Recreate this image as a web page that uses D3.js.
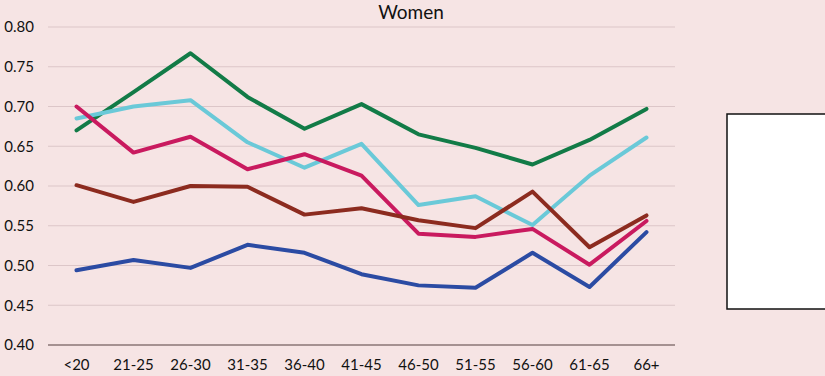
<!DOCTYPE html>
<html>
<head>
<meta charset="utf-8">
<script src="https://cdn.jsdelivr.net/npm/d3@7"></script>
<style>
  body { margin: 0; background: #f6e4e4; }
  svg { display: block; }
</style>
</head>
<body>
<svg id="chart" width="825" height="376"></svg>
<script>
// categories and series
const ageGroups = ["<20", "21-25", "26-30", "31-35", "36-40", "41-45", "46-50", "51-55", "56-60", "61-65", "66+"];
const greenVals   = [0.670, 0.718, 0.767, 0.712, 0.672, 0.703, 0.665, 0.648, 0.627, 0.658, 0.697];
const cyanVals    = [0.685, 0.700, 0.708, 0.655, 0.623, 0.653, 0.576, 0.587, 0.551, 0.613, 0.661];
const magentaVals = [0.700, 0.642, 0.662, 0.621, 0.640, 0.613, 0.540, 0.536, 0.546, 0.501, 0.556];
const brownVals   = [0.601, 0.580, 0.600, 0.599, 0.564, 0.572, 0.557, 0.547, 0.593, 0.523, 0.563];
const blueVals    = [0.494, 0.507, 0.497, 0.526, 0.516, 0.489, 0.475, 0.472, 0.516, 0.473, 0.542];
const yTicks = [0.40, 0.45, 0.50, 0.55, 0.60, 0.65, 0.70, 0.75, 0.80];

const series = [
  { name: "green", values: greenVals, color: "#127b47" },
  { name: "cyan", values: cyanVals, color: "#6ac9d8" },
  { name: "magenta", values: magentaVals, color: "#c91a5f" },
  { name: "brown", values: brownVals, color: "#8c2b1f" },
  { name: "blue", values: blueVals, color: "#2b4ba3" }
];

const svg = d3.select("#chart");
const font = "Lato, 'Open Sans', sans-serif";

// background
svg.append("rect").attr("width", 825).attr("height", 376).attr("fill", "#f6e4e4");

// scales
let x = d3.scaleBand().domain(ageGroups).range([48, 675]);
let y = d3.scaleLinear().domain([0.40, 0.80]).range([345, 27]);

// gridlines
svg.append("g")
  .selectAll("line")
  .data(yTicks.slice(1))
  .join("line")
    .attr("x1", 48).attr("x2", 675)
    .attr("y1", d => y(d)).attr("y2", d => y(d))
    .attr("stroke", "#dcc6c8")
    .attr("stroke-width", 1);

// base axis line
svg.append("line")
  .attr("x1", 48).attr("x2", 675)
  .attr("y1", y(0.40)).attr("y2", y(0.40))
  .attr("stroke", "#8a7676")
  .attr("stroke-width", 1.5);

// y axis labels
const yAxis = svg.append("g")
  .attr("transform", "translate(34,0)")
  .call(d3.axisLeft(y).tickValues(yTicks).tickFormat(d3.format(".2f")).tickSize(0).tickPadding(0));
yAxis.select(".domain").remove();
yAxis.selectAll("text")
  .attr("fill", "#111")
  .style("font-family", font)
  .style("font-size", "15px");

// x axis labels
const xAxis = svg.append("g")
  .attr("transform", "translate(0," + (y(0.40) + 14) + ")")
  .call(d3.axisBottom(x).tickSize(0).tickPadding(0));
xAxis.select(".domain").remove();
xAxis.selectAll("text")
  .attr("fill", "#111")
  .style("font-family", font)
  .style("font-size", "15px");

// lines
const line = d3.line()
  .x((d, i) => x(ageGroups[i]) + x.bandwidth() / 2)
  .y(d => y(d));

svg.append("g")
  .selectAll("path")
  .data(series)
  .join("path")
    .attr("d", d => line(d.values))
    .attr("fill", "none")
    .attr("stroke", d => d.color)
    .attr("stroke-width", 4)
    .attr("stroke-linejoin", "round")
    .attr("stroke-linecap", "round");

// title
svg.append("text")
  .attr("x", 411).attr("y", 19)
  .attr("text-anchor", "middle")
  .attr("fill", "#111")
  .style("font-family", font)
  .style("font-size", "19px")
  .text("Women");

// empty legend box
svg.append("rect")
  .attr("x", 727).attr("y", 114)
  .attr("width", 110).attr("height", 195)
  .attr("fill", "#ffffff")
  .attr("stroke", "#111")
  .attr("stroke-width", 1.5);
</script>
</body>
</html>
